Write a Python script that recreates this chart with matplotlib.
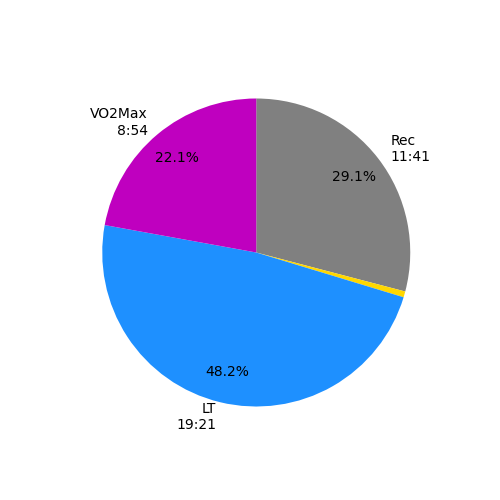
import matplotlib
matplotlib.use("Agg")
import matplotlib.pyplot as plt

# time in zone, seconds
zones = ["Rec", "", "LT", "VO2Max"]
seconds = [701, 15, 1161, 534]
colors = ["grey", "gold", "dodgerblue", "m"]


def fmt_time(s):
    return f"{s // 60}:{s % 60:02d}"


labels = [f"{z}\n{fmt_time(s)}" if z else "" for z, s in zip(zones, seconds)]


def pct(p):
    return f"{p:.1f}%" if p > 2 else ""


fig, ax = plt.subplots(figsize=(5, 5), dpi=100)
ax.pie(seconds, labels=labels, colors=colors, autopct=pct,
       pctdistance=0.8, startangle=90, counterclock=False)
fig.savefig("out.png")
